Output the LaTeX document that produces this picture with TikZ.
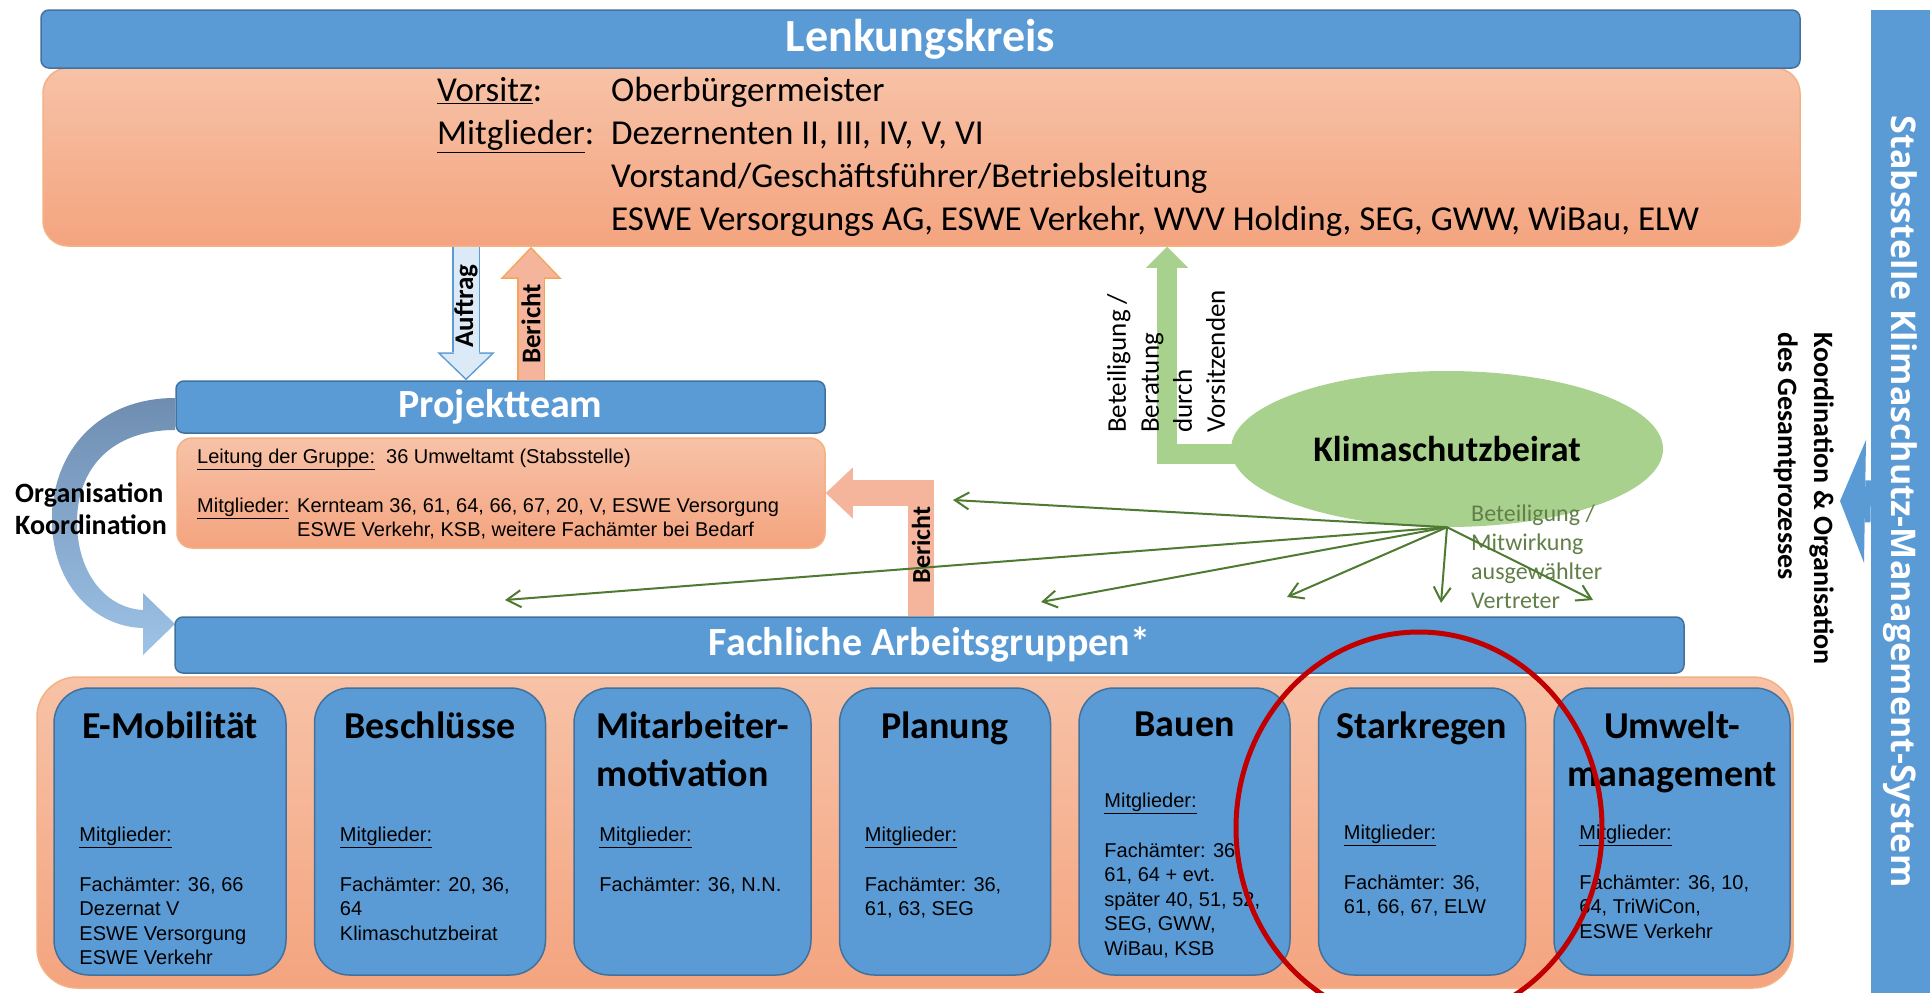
\documentclass[tikz,border=0pt]{standalone}
\usepackage{fontspec}
\setmainfont{Carlito}
\newfontfamily\arialfont{Liberation Sans}
\newfontfamily\sidefont{Open Sans}
\usetikzlibrary{positioning, calc, arrows.meta, shapes.geometric}
\definecolor{boxblue}{HTML}{5B9BD5}
\definecolor{boxline}{HTML}{41719C}
\definecolor{salmontop}{HTML}{F7C2A7}
\definecolor{salmonbot}{HTML}{F4A47F}
\definecolor{salmonline}{HTML}{F4B183}
\definecolor{reportfill}{HTML}{F4B59C}
\definecolor{reportline}{HTML}{F3A65A}
\definecolor{orderfill}{HTML}{DCE9F6}
\definecolor{leafgreen}{HTML}{A9D18E}
\definecolor{fangreen}{HTML}{4E7A32}
\definecolor{olivetext}{HTML}{627F48}
\definecolor{orgdark}{HTML}{6E8DB1}
\definecolor{orglight}{HTML}{9DC3E6}
\definecolor{markred}{HTML}{C00000}
\tikzset{
	titlebar/.style={rectangle, draw=boxline, fill=boxblue, line width=1.5pt, rounded corners=8pt, inner sep=0pt, text=white, font=\bfseries\fontsize{40}{48}\selectfont},
	salmonbox/.style={rectangle, draw=salmonline, line width=1.5pt, top color=salmontop, bottom color=salmonbot, rounded corners=25pt, inner sep=0pt},
	groupbox/.style={rectangle, draw=boxline, fill=boxblue, line width=1.5pt, rounded corners=35pt, minimum height=287pt, inner sep=0pt},
	grouptitle/.style={align=center, inner sep=0pt, font=\bfseries\fontsize{38}{48}\selectfont},
	members/.style={align=left, inner sep=0pt, anchor=north west, font=\arialfont\fontsize{20}{24.6}\selectfont},
	bodytext/.style={align=left, inner sep=0pt},
	sidelabel/.style={inner sep=0pt, font=\bfseries\fontsize{27}{33}\selectfont},
	fanline/.style={draw=fangreen, line width=2pt, -{Straight Barb[length=14pt, width=17pt]}}
}

\begin{document}
\begin{tikzpicture}[x=1pt, y=-1pt]
	\useasboundingbox (0,0) rectangle (1930,993);
	\fill[white] (0,0) rectangle (1930,993);
	
	% === LENKUNGSKREIS ===
	\node[salmonbox, minimum width=1757pt, minimum height=178pt] (lkbody) at (921.5,157) {};
	\node[titlebar, minimum width=1759pt, minimum height=58pt, font=\bfseries\fontsize{46}{52}\selectfont] (lkbar) at (920.5,39) {Lenkungskreis};
	\node[bodytext, anchor=north west, font=\fontsize{35}{43}\selectfont] (lktext) at (437,77) {%
		\makebox[174pt][l]{\underline{Vorsitz}:}Oberbürgermeister\\
		\makebox[174pt][l]{\underline{Mitglieder}:}Dezernenten II, III, IV, V, VI\\
		\hspace*{174pt}Vorstand/Geschäftsführer/Betriebsleitung\\
		\hspace*{174pt}ESWE Versorgungs AG, ESWE Verkehr, WVV Holding, SEG, GWW, WiBau, ELW};
	
	% === PROJEKTTEAM ===
	\shade[top color=orgdark, bottom color=orglight]
		(175,398) .. controls (100,398) and (52,450) .. (52,520)
		.. controls (52,585) and (95,627) .. (143,628)
		-- (143,655) -- (175,624) -- (143,593) -- (143,610)
		.. controls (105,608) and (77,572) .. (77,522)
		.. controls (77,470) and (110,430) .. (175,430) -- cycle;
	\node[salmonbox, rounded corners=15pt, minimum width=648pt, minimum height=110pt] (ptbody) at (501,493) {};
	\node[titlebar, minimum width=649pt, minimum height=52pt] (ptbar) at (500.5,407) {Projektteam};
	\node[members] (pttext) at (197,449) {%
		\underline{Leitung der Gruppe:}\ \ 36 Umweltamt (Stabsstelle)\\[24pt]
		\makebox[100pt][l]{\underline{Mitglieder:}}Kernteam 36, 61, 64, 66, 67, 20, V, ESWE Versorgung\\
		\hspace*{100pt}ESWE Verkehr, KSB, weitere Fachämter bei Bedarf};
	\node[anchor=west, align=left, inner sep=0pt, font=\bfseries\fontsize{28}{32}\selectfont] (orglabel) at (15,509) {Organisation\\Koordination};
	
	% === FACHLICHE ARBEITSGRUPPEN ===
	\node[titlebar, minimum width=1509pt, minimum height=56pt] (fachbar) at (929.5,645) {Fachliche Arbeitsgruppen*};
	\node[salmonbox, rounded corners=40pt, minimum width=1756pt, minimum height=311pt] (groups) at (915,832.5) {};
	
	\node[groupbox, minimum width=232pt] (emob) at (170,831.5) {};
	\node[groupbox, minimum width=231pt, right=27pt of emob] (beschl) {};
	\node[groupbox, minimum width=237pt, right=27pt of beschl] (motiv) {};
	\node[groupbox, minimum width=211pt, right=27pt of motiv] (planung) {};
	\node[groupbox, minimum width=211pt, right=27pt of planung] (bauen) {};
	\node[groupbox, minimum width=207pt, right=27pt of bauen] (starkregen) {};
	\node[groupbox, minimum width=236pt, right=27pt of starkregen] (umwelt) {};
	
	\node[grouptitle, below=24pt of emob.north] (emobtitle) {E-Mobilität};
	\node[grouptitle, below=24pt of beschl.north] (beschltitle) {Beschlüsse};
	\node[grouptitle, align=left, below=24pt of motiv.north] (motivtitle) {Mitarbeiter-\\motivation};
	\node[grouptitle, below=24pt of planung.north] (planungtitle) {Planung};
	\node[grouptitle, below=24pt of bauen.north] (bauentitle) {Bauen};
	\node[grouptitle, below=24pt of starkregen.north] (starkregentitle) {Starkregen};
	\node[grouptitle, below=24pt of umwelt.north] (umwelttitle) {Umwelt-\\management};
	
	\node[members, below right=140pt and 26pt of emob.north west] (emobmembers) {\underline{Mitglieder:}\\[24.6pt]Fachämter: 36, 66\\Dezernat V\\ESWE Versorgung\\ESWE Verkehr};
	\node[members, below right=140pt and 26pt of beschl.north west] (beschlmembers) {\underline{Mitglieder:}\\[24.6pt]Fachämter: 20, 36,\\64\\Klimaschutzbeirat};
	\node[members, below right=140pt and 26pt of motiv.north west] (motivmembers) {\underline{Mitglieder:}\\[24.6pt]Fachämter: 36, N.N.};
	\node[members, below right=140pt and 26pt of planung.north west] (planungmembers) {\underline{Mitglieder:}\\[24.6pt]Fachämter: 36,\\61, 63, SEG};
	\node[members, below right=106pt and 26pt of bauen.north west] (bauenmembers) {\underline{Mitglieder:}\\[24.6pt]Fachämter: 36,\\61, 64 + evt.\\später 40, 51, 52,\\SEG, GWW,\\WiBau, KSB};
	\node[members, below right=138pt and 26pt of starkregen.north west] (starkregenmembers) {\underline{Mitglieder:}\\[24.6pt]Fachämter: 36,\\61, 66, 67, ELW};
	\node[members, below right=138pt and 26pt of umwelt.north west] (umweltmembers) {\underline{Mitglieder:}\\[24.6pt]Fachämter: 36, 10,\\64, TriWiCon,\\ESWE Verkehr};
	
	% === STABSSTELLE ===
	\node[rectangle, fill=boxblue, minimum width=59pt, minimum height=983pt, inner sep=0pt] (sidebar) at (1900.5,501.5) {};
	\node[rotate=-90, inner sep=0pt, text=white, font=\sidefont\bfseries\fontsize{34}{40}\selectfont] (sidetitle) at (sidebar.center) {Stabsstelle Klimaschutz-Management-System};
	\coordinate (koordtip) at (1840,501);
	\draw[line width=42pt, draw=boxblue, -{Triangle[length=25pt, width=123pt, line width=0pt]}] (sidebar.west) -- (koordtip);
	\node[rotate=-90, anchor=north west, align=left, inner sep=0pt, font=\bfseries\fontsize{28}{36}\selectfont] (koordlabel) at (1834,332) {Koordination \& Organisation\\des Gesamtprozesses};
	
	% === AUFTRAG / BERICHT ===
	\coordinate (auftraglane) at (466,0);
	\coordinate (berichtlane) at (531,0);
	\coordinate (returnlane) at (921,0);
	\coordinate (beiratlane) at (1167,0);
	
	\draw[line width=28pt, draw=boxblue, -{Triangle[length=28pt, width=58pt, line width=0pt]}] (lkbody.south -| auftraglane) -- (ptbar.north -| auftraglane);
	\draw[line width=25pt, draw=orderfill, shorten >=2.1pt, -{Triangle[length=24.4pt, width=50.5pt, line width=0pt]}] (lkbody.south -| auftraglane) -- (ptbar.north -| auftraglane);
	\node[sidelabel, rotate=90] (auftraglabel) at (466,306) {Auftrag};
	
	\draw[line width=28pt, draw=reportline, -{Triangle[length=32pt, width=61pt, line width=0pt]}] (ptbar.north -| berichtlane) -- (lkbody.south -| berichtlane);
	\draw[line width=25pt, draw=reportfill, shorten >=2.2pt, -{Triangle[length=28.3pt, width=54pt, line width=0pt]}] (ptbar.north -| berichtlane) -- (lkbody.south -| berichtlane);
	\node[sidelabel, rotate=90] (berichtlabel) at (531,324) {Bericht};
	
	\draw[line width=26pt, draw=reportfill, -{Triangle[length=27pt, width=51pt, line width=0pt]}] (fachbar.north -| returnlane) |- (ptbody.east);
	
	% === KLIMASCHUTZBEIRAT ===
	\draw[line width=20pt, draw=leafgreen, -{Triangle[length=21pt, width=42pt, line width=0pt]}] (1240,454) -| (lkbody.south -| beiratlane);
	\node[ellipse, fill=leafgreen, minimum width=432pt, minimum height=156pt, inner sep=0pt, font=\bfseries\fontsize{36}{40}\selectfont] (kbeirat) at (1447,449) {Klimaschutzbeirat};
	\node[rotate=90, anchor=north west, align=left, inner sep=0pt, font=\fontsize{27}{33}\selectfont] (beratlabel) at (1107,433) {Beteiligung /\\Beratung\\durch\\Vorsitzenden};
	\node[anchor=north west, align=left, inner sep=0pt, text=olivetext, font=\fontsize{24}{29}\selectfont] (mitwlabel) at (1471,505) {Beteiligung /\\Mitwirkung\\ausgewählter\\Vertreter};
	
	\coordinate (fan1) at (953,500);
	\coordinate (fan2) at (505,600);
	\coordinate (fan3) at (1041,602);
	\coordinate (fan4) at (1287,597);
	\coordinate (fan5) at (1441,603);
	\coordinate (fan6) at (1593,600);
	\draw[fanline] (kbeirat.south) -- (fan1);
	\draw[fanline] (kbeirat.south) -- (fan2);
	\draw[fanline] (kbeirat.south) -- (fan3);
	\draw[fanline] (kbeirat.south) -- (fan4);
	\draw[fanline] (kbeirat.south) -- (fan5);
	\draw[fanline] (kbeirat.south) -- (fan6);
	\node[sidelabel, font=\bfseries\fontsize{26}{30}\selectfont, rotate=90] (berichtlabel2) at (921,545) {Bericht};
	
	% === MARK ===
	\begin{scope}
		\clip (0,0) rectangle (1930,993);
		\draw[markred, line width=5pt] (1419,828) ellipse [x radius=183, y radius=196];
	\end{scope}
\end{tikzpicture}
\end{document}
